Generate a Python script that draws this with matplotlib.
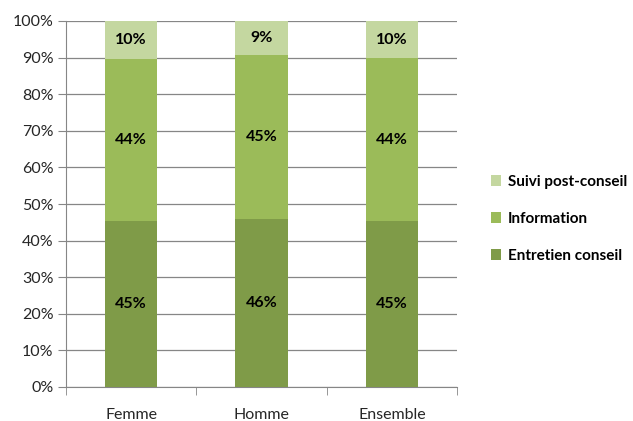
import matplotlib.pyplot as plt
import numpy as np
from matplotlib.ticker import PercentFormatter, FixedLocator

plt.rcParams['font.family'] = ['Lato', 'DejaVu Sans']

categories = ["Femme", "Homme", "Ensemble"]
entretien = [45.4, 45.8, 45.4]
information = [44.2, 44.9, 44.4]
suivi = [10.4, 9.3, 10.2]

series = [
    ("Entretien conseil", entretien, "#7F9B48"),
    ("Information", information, "#9BBB59"),
    ("Suivi post-conseil", suivi, "#C4D7A0"),
]

fig = plt.figure(figsize=(6.33, 4.21), dpi=100)
ax = fig.add_axes([66 / 633, 34 / 421, 391 / 633, 366 / 421])

x = np.arange(len(categories))
bottom = np.zeros(len(categories))
handles = []
for name, vals, col in series:
    bars = ax.bar(x, vals, width=0.4, bottom=bottom, color=col, label=name, zorder=3)
    handles.append(bars)
    for xi, b, v in zip(x, bottom, vals):
        ax.text(xi, b + v / 2, f"{v:.0f}%", ha="center", va="center",
                fontsize=11.5, fontweight="bold", color="black", zorder=4)
    bottom += np.array(vals)

ax.set_xlim(-0.5, 2.5)
ax.set_ylim(0, 100)
ax.set_yticks(np.arange(0, 101, 10))
ax.yaxis.set_major_formatter(PercentFormatter(decimals=0))
ax.set_xticks(x)
ax.set_xticklabels(categories)
ax.xaxis.set_minor_locator(FixedLocator([-0.5, 0.5, 1.5, 2.5]))

ax.grid(axis="y", color="#868686", linewidth=0.9, zorder=0)
for s in ["top", "right"]:
    ax.spines[s].set_visible(False)
for s in ["left", "bottom"]:
    ax.spines[s].set_color("#868686")
ax.tick_params(axis="y", length=6, color="#868686", labelsize=11.5, labelcolor="#262626", pad=3)
ax.tick_params(axis="x", which="major", length=0, labelsize=11.5, labelcolor="#262626", pad=15)
ax.tick_params(axis="x", which="minor", length=6, color="#868686")

leg = fig.legend(handles[::-1], [h.get_label() for h in handles[::-1]],
                 loc="center left", bbox_to_anchor=(477 / 633, 1 - 219 / 421),
                 frameon=False, handlelength=0.7, handleheight=0.7,
                 handletextpad=0.4, labelspacing=1.5,
                 prop={"size": 11, "weight": "bold"})

fig.savefig("out.png", dpi=100)
